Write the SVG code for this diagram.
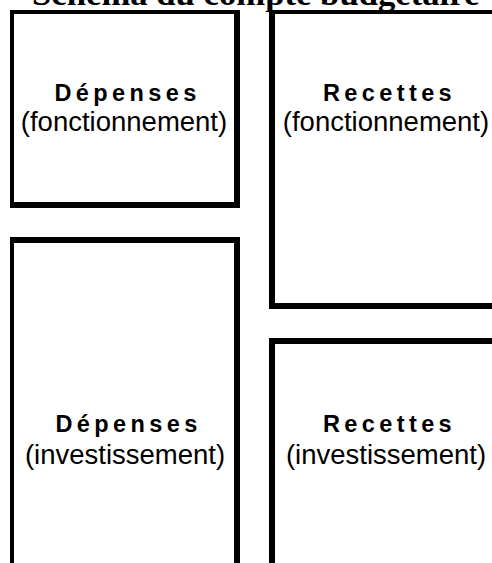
<svg xmlns="http://www.w3.org/2000/svg" width="492" height="563" viewBox="0 0 492 563">
<style>
.frame{fill:#000;fill-rule:evenodd;stroke:none}
.head{font-family:"Liberation Sans",Arial,sans-serif;font-weight:bold;font-size:23.5px;letter-spacing:4.4px;text-anchor:middle;fill:#000}
.sub{font-family:"Liberation Sans",Arial,sans-serif;font-size:27.5px;text-anchor:middle;fill:#000}
.title{font-family:"Liberation Serif","Times New Roman",serif;font-weight:bold;font-size:34.7px;fill:#000}
</style>
<rect width="492" height="563" fill="#fff"/>
<text class="title" x="32" y="5">Schéma du compte budgétaire</text>
<g id="depenses-fonctionnement">
<path class="frame" d="M10 10H240V208H10Z M14 14V202H234V14Z"/>
<text class="head" x="127.5" y="101">Dépenses</text>
<text class="sub" x="124" y="131">(fonctionnement)</text>
</g>
<g id="recettes-fonctionnement">
<path class="frame" d="M269 10H520V309H269Z M275 14V303H520V14Z"/>
<text class="head" x="389.5" y="101">Recettes</text>
<text class="sub" x="386" y="131">(fonctionnement)</text>
</g>
<g id="depenses-investissement">
<path class="frame" d="M10 237H240V580H10Z M14 243V580H234V243Z"/>
<text class="head" x="128.5" y="432">Dépenses</text>
<text class="sub" x="125" y="464">(investissement)</text>
</g>
<g id="recettes-investissement">
<path class="frame" d="M269 338H520V580H269Z M275 344V580H520V344Z"/>
<text class="head" x="389.5" y="432">Recettes</text>
<text class="sub" x="386" y="464">(investissement)</text>
</g>
<g id="connectors"/>
</svg>
